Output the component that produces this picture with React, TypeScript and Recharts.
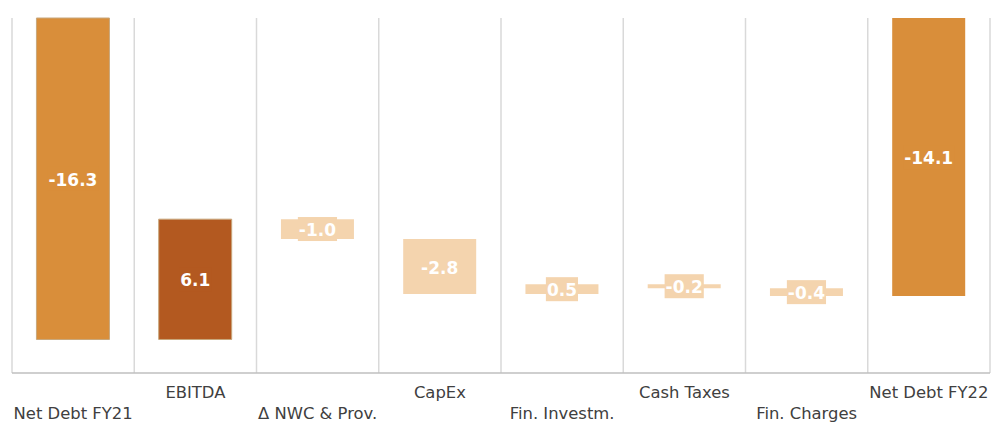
import React from 'react';
import { BarChart, Bar, XAxis, YAxis, CartesianGrid, Cell, LabelList } from 'recharts';

const categories = ['Net Debt FY21', 'EBITDA', '\u0394 NWC & Prov.', 'CapEx', 'Fin. Investm.', 'Cash Taxes', 'Fin. Charges', 'Net Debt FY22'];
const values = [-16.3, 6.1, -1.0, -2.8, 0.5, -0.2, -0.4, -14.1];
const isTotal = [true, false, false, false, false, false, false, true];

const TOTAL = '#D98E3A';
const UP = '#B35920';
const STEP = '#F4D4AE';

// waterfall ranges built from the values
let running = 0;
const data = categories.map((name, i) => {
  const v = values[i];
  let start = running;
  let end = running + v;
  if (isTotal[i]) {
    start = 0;
    end = v;
  }
  running = end;
  const color = isTotal[i] ? TOTAL : v > 0 && i === 1 ? UP : STEP;
  return { name, value: v, range: [Math.min(start, end), Math.max(start, end)], color };
});

const LABEL_SIZE = 17;
const charW: Record<string, number> = { '-': 0.415, '.': 0.38 };
const textWidth = (s: string) => s.split('').reduce((a, c) => a + (charW[c] ?? 0.696) * LABEL_SIZE, 0);

const BarLabel = (props: any) => {
  const { x, y, width, height, index } = props;
  const v = values[index];
  const txt = v.toFixed(1);
  const top = Math.min(y, y + height);
  const cy = top + Math.abs(height) / 2;
  const cx = x + width / 2;
  const w = textWidth(txt) + 2;
  return (
    <g>
      <rect x={cx - w / 2} y={cy - 12} width={w} height={24} fill={data[index].color} />
      <text x={cx} y={cy + 1} textAnchor="middle" dominantBaseline="central" fill="#fff" fontWeight="bold" fontSize={LABEL_SIZE}>
        {txt}
      </text>
    </g>
  );
};

const StaggerTick = (props: any) => {
  const { x, y, payload, index } = props;
  return (
    <text x={x} y={y + (index % 2 === 0 ? 46 : 25)} textAnchor="middle" fill="#404040" fontSize={16.4}>
      {payload.value}
    </text>
  );
};

export default function App() {
  return (
    <div style={{ fontFamily: '"DejaVu Sans", sans-serif' }}>
      <style>{'body { margin: 0; }'}</style>
      <BarChart
        width={992}
        height={423}
        data={data}
        margin={{ top: 18, right: 2, left: 12, bottom: 0 }}
        barCategoryGap="20%"
      >
        <CartesianGrid
          horizontal={false}
          stroke="#D9D9D9"
          strokeWidth={1.5}
          verticalCoordinatesGenerator={({ offset }: any) =>
            categories.map((_, i) => offset.left + (i * offset.width) / categories.length).concat([offset.left + offset.width])
          }
        />
        <XAxis
          dataKey="name"
          interval={0}
          height={50}
          tickLine={false}
          tickSize={0}
          tickMargin={0}
          stroke="#BFBFBF"
          strokeWidth={1.5}
          tick={<StaggerTick />}
        />
        <YAxis hide domain={[-18, 0]} />
        <Bar dataKey="range" isAnimationActive={false}>
          {data.map((d, i) => (
            <Cell key={`c-${i}`} fill={d.color} stroke={i < 2 ? '#C8A77C' : 'none'} strokeWidth={1} />
          ))}
          <LabelList dataKey="value" content={<BarLabel />} />
        </Bar>
      </BarChart>
    </div>
  );
}
